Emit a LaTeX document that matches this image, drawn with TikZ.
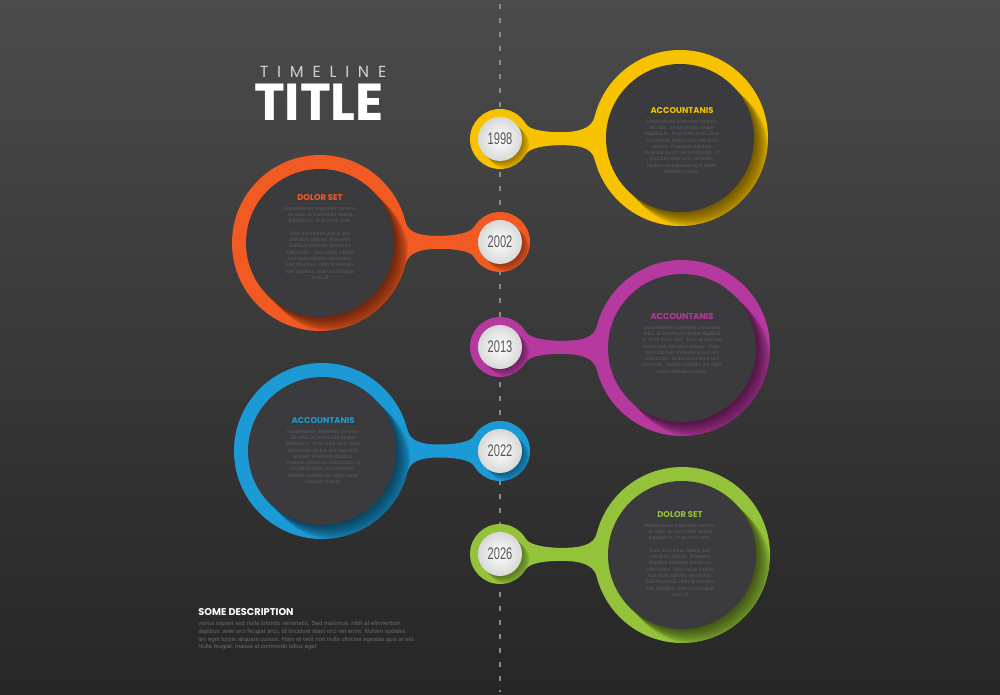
\documentclass[tikz,border=0pt]{standalone}
\usepackage{fontspec}
\setmainfont{Liberation Sans}
\newfontfamily\headfont{Poppins}
\newfontfamily\spacedfont[LetterSpace=55]{Poppins}
\newfontfamily\yearfont[FakeStretch=0.66]{Liberation Sans}
\usetikzlibrary{calc}

\definecolor{bgtop}{HTML}{4B4B4B}
\definecolor{bgbot}{HTML}{262626}
\definecolor{discgray}{HTML}{3B3B3D}
\definecolor{bodygray}{HTML}{5C5C5E}
\definecolor{dashgray}{HTML}{8A8A8A}
\definecolor{yeargray}{HTML}{555555}
\definecolor{ballgray}{HTML}{D8D8D8}
\definecolor{cyel}{HTML}{F7C300}
\definecolor{corg}{HTML}{F15A22}
\definecolor{cmag}{HTML}{B5399E}
\definecolor{cblu}{HTML}{1C9AD6}
\definecolor{cgrn}{HTML}{94C23A}

% neck between year knob (#1) and big circle (#2)
\newcommand\neckright[3]{%
  \fill[#3] (#1.30) .. controls +(300:7) and +(-16,0) .. ($(#1)!.34!(#2)+(0,6.5)$)
    .. controls +(18,0) and +(256:12) .. (#2.166) -- (#2.194)
    .. controls +(104:12) and +(18,0) .. ($(#1)!.34!(#2)+(0,-6.5)$)
    .. controls +(-16,0) and +(60:7) .. (#1.-30) -- cycle;}
\newcommand\neckleft[3]{%
  \fill[#3] (#1.150) .. controls +(240:7) and +(16,0) .. ($(#1)!.34!(#2)+(0,6.5)$)
    .. controls +(-18,0) and +(284:12) .. (#2.14) -- (#2.-14)
    .. controls +(76:12) and +(-18,0) .. ($(#1)!.34!(#2)+(0,-6.5)$)
    .. controls +(16,0) and +(120:7) .. (#1.210) -- cycle;}

\tikzset{
    ring/.style={circle, inner sep=0pt, outer sep=0pt, minimum size=88pt},
    disc/.style={circle, inner sep=0pt, outer sep=0pt, minimum size=74pt, fill=discgray},
    knob/.style={circle, inner sep=0pt, outer sep=0pt, minimum size=30pt},
    ball/.style={circle, inner sep=0pt, outer sep=0pt, minimum size=22pt,
        inner color=white, outer color=ballgray, text=yeargray,
        font=\yearfont\fontsize{8.4}{9}\selectfont},
    head/.style={inner sep=0pt, font=\headfont\bfseries\fontsize{4.2}{5}\selectfont},
    body/.style={inner sep=0pt, anchor=north, align=center, text=bodygray,
        font=\fontsize{2.6}{3.15}\selectfont},
}

\begin{document}
\begin{tikzpicture}[x=0.5pt,y=0.5pt]
    \useasboundingbox (0,0) rectangle (1000,-695);
    \shade [top color=bgtop, bottom color=bgbot] (0,0) rectangle (1000,-695);

    \coordinate (linetop) at (500,-4);
    \coordinate (linebot) at (500,-692);
    \draw [dashgray, line width=1pt, dash pattern=on 2.5pt off 4.5pt] (linetop) -- (linebot);

    % title
    \node [text=white!82!black, font=\spacedfont\fontsize{8}{9}\selectfont] (subtitle) at (323,-72) {TIMELINE};
    \node [text=white, font=\headfont\bfseries\fontsize{26}{28}\selectfont] (title) at (319,-102) {TITLE};

    % timeline items
    \foreach \yr/\yk/\xc/\yc/\col/\neck in {1998/139/680/138/cyel/\neckright,
            2002/242/320/243/corg/\neckleft, 2013/347/682/348/cmag/\neckright,
            2022/451/322/451/cblu/\neckleft, 2026/554/682/555/cgrn/\neckright}{
        \node [ring, fill=\col] (c\yr) at (\xc,-\yc) {};
        \node [knob, fill=\col] (k\yr) at (500,-\yk) {};
        \neck{k\yr}{c\yr}{\col}
        \begin{scope}
            \clip (c\yr) circle [radius=44pt];
            \foreach \i in {1,...,16}
                \fill [black, opacity=.042] ($(c\yr)+(\i,-\i)$) circle [radius=37pt];
        \end{scope}
        \node [disc] (d\yr) at (c\yr) {};
        \begin{scope}
            \clip (k\yr) circle [radius=15pt];
            \foreach \i in {1,...,8}
                \fill [black, opacity=.05] ($(k\yr)+(\i,-\i)$) circle [radius=11pt];
        \end{scope}
        \node [ball] (b\yr) at (k\yr) {\yr};
    }

    % texts in the circles
    \node [head, text=cyel] (h1998) at (682,-111) {ACCOUNTANIS};
    \node [body] (t1998) at (682,-119) {Suspendisse imperdiet commo-\\do odio, at commodo neque\\dapibus in. In ut nunc sem. Duis\\accumsan lectus sed interdum\\aliquet. Praesent dapibus\\molestie ipsum eu sollicitudin. Id\\tincidunt diam orci vel enim.\\Nullam sodales leo eget turpis\\aliquam cursus.};

    \node [head, text=corg] (h2002) at (320,-198) {DOLOR SET};
    \node [body] (t2002) at (320,-206) {Suspendisse imperdiet commo-\\do odio, at commodo neque\\dapibus in. In ut nunc sem.\\[3.15pt]Duis accumsan lectus sed\\interdum aliquet. Praesent\\dapibus molestie ipsum eu\\sollicitudin. Sed varius sapien\\sed nulla lobortis venenatis.\\Sed maximus, nibh at elemen-\\tum dapibus, ante orci feugiat\\arcu, id};

    \node [head, text=cmag] (h2013) at (682,-317) {ACCOUNTANIS};
    \node [body] (t2013) at (682,-325) {Suspendisse imperdiet commodo\\odio, at commodo neque dapibus\\in. In ut nunc sem. Duis accumsan\\lectus sed interdum aliquet. Prae-\\sent dapibus molestie ipsum eu\\sollicitudin. Id tincidunt diam orci\\vel enim. Nullam sodales leo eget\\turpis aliquam cursus.};

    \node [head, text=cblu] (h2022) at (323,-421) {ACCOUNTANIS};
    \node [body] (t2022) at (323,-429) {Suspendisse imperdiet commo-\\do odio, at commodo neque\\dapibus in. In ut nunc sem. Duis\\accumsan lectus sed interdum\\aliquet. Praesent dapibus\\molestie ipsum eu sollicitudin. Id\\tincidunt diam orci vel enim.\\Nullam sodales leo eget turpis\\aliquam cursus.};

    \node [head, text=cgrn] (h2026) at (680,-515) {DOLOR SET};
    \node [body] (t2026) at (680,-523) {Suspendisse imperdiet commo-\\do odio, at commodo neque\\dapibus in. In ut nunc sem.\\[3.15pt]Duis accumsan lectus sed\\interdum aliquet. Praesent\\dapibus molestie ipsum eu\\sollicitudin. Sed varius sapien\\sed nulla lobortis venenatis.\\Sed maximus, nibh at elemen-\\tum dapibus, ante orci feugiat\\arcu, id};

    % description
    \node [head, anchor=west, text=white, font=\headfont\bfseries\fontsize{4.9}{6}\selectfont] (deschead) at (198,-612) {SOME DESCRIPTION};
    \node [inner sep=0pt, anchor=north west, align=left, text=bodygray!90!white, font=\fontsize{3}{3.85}\selectfont] (desc) at (198,-621) {varius sapien sed nulla lobortis venenatis. Sed maximus, nibh at elementum\\dapibus, ante orci feugiat arcu, id tincidunt diam orci vel enim. Nullam sodales\\leo eget turpis aliquam cursus. Nam et velit non nulla ultricies egestas quis at est.\\Nulla feugiat, massa at commodo tellus eget};

\end{tikzpicture}
\end{document}
